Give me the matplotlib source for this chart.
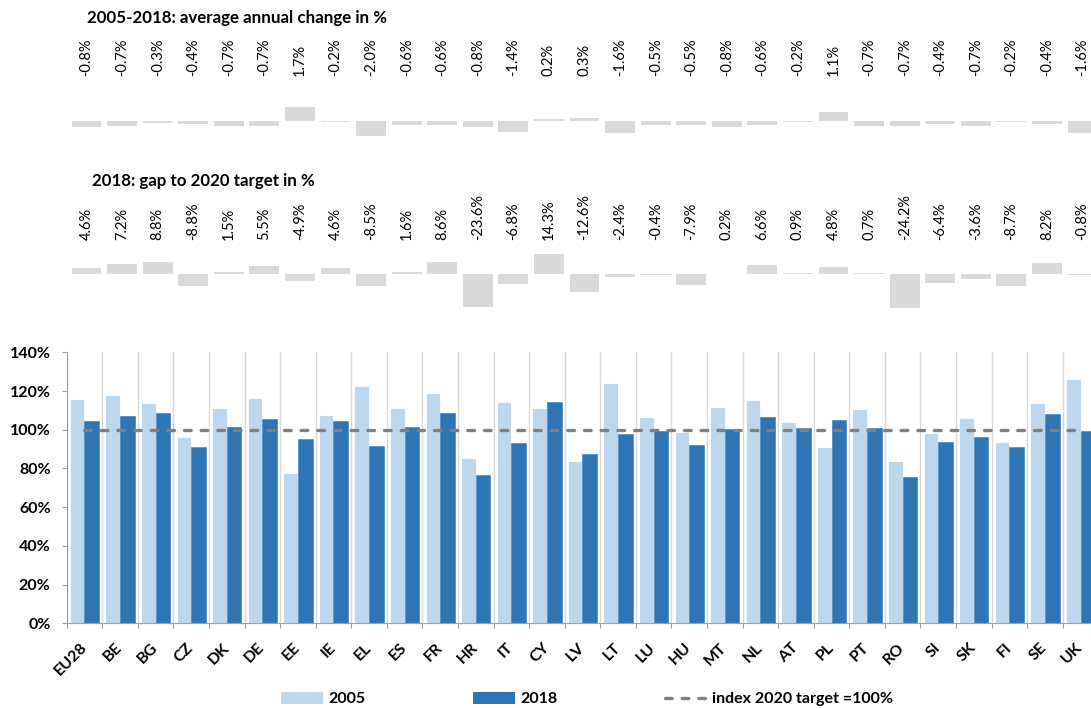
import numpy as np
import matplotlib
matplotlib.use('Agg')
import matplotlib.pyplot as plt
from matplotlib.ticker import FuncFormatter
from matplotlib.transforms import blended_transform_factory
from matplotlib.patches import Patch
from matplotlib.lines import Line2D


plt.rcParams['font.family'] = ['Lato', 'DejaVu Sans']

countries = ['EU28', 'BE', 'BG', 'CZ', 'DK', 'DE', 'EE', 'IE', 'EL', 'ES',
             'FR', 'HR', 'IT', 'CY', 'LV', 'LT', 'LU', 'HU', 'MT', 'NL',
             'AT', 'PL', 'PT', 'RO', 'SI', 'SK', 'FI', 'SE', 'UK']

# index relative to the 2020 target (%)
index_2005 = [116.1, 118.1, 114.0, 96.1, 111.1, 116.4, 77.8, 107.6, 122.8, 111.1,
              118.8, 85.6, 114.5, 111.1, 83.9, 124.2, 106.6, 99.0, 111.8, 115.5,
              103.8, 91.3, 110.6, 84.0, 98.5, 106.2, 93.7, 113.7, 126.1]
index_2018 = [104.6, 107.2, 108.8, 91.2, 101.5, 105.5, 95.1, 104.6, 91.5, 101.6,
              108.6, 76.4, 93.2, 114.3, 87.4, 97.6, 99.6, 92.1, 100.2, 106.6,
              100.9, 104.8, 100.7, 75.8, 93.6, 96.4, 91.3, 108.2, 99.2]
target_index = [100] * len(countries)

annual_change = [-0.8, -0.7, -0.3, -0.4, -0.7, -0.7, 1.7, -0.2, -2.0, -0.6,
                 -0.6, -0.8, -1.4, 0.2, 0.3, -1.6, -0.5, -0.5, -0.8, -0.6,
                 -0.2, 1.1, -0.7, -0.7, -0.4, -0.7, -0.2, -0.4, -1.6]
gap_to_target = [4.6, 7.2, 8.8, -8.8, 1.5, 5.5, -4.9, 4.6, -8.5, 1.6,
                 8.6, -23.6, -6.8, 14.3, -12.6, -2.4, -0.4, -7.9, 0.2, 6.6,
                 0.9, 4.8, 0.7, -24.2, -6.4, -3.6, -8.7, 8.2, -0.8]

LIGHT = '#bdd7ee'
DARK = '#2e75b6'
BAR_GREY = '#d9d9d9'
LINE_GREY = '#808080'
AXIS_GREY = '#a0a0a0'
DASHES = (0, (2.0, 3.0))

W, H = 1091, 708
fig = plt.figure(figsize=(W / 100, H / 100), dpi=100)


def px_axes(left, top, right, bottom):
    # axes placed by pixel edges, origin at the top left of the figure
    return fig.add_axes([left / W, 1 - bottom / H, (right - left) / W, (bottom - top) / H])


x = np.arange(len(countries))

# main chart
ax = px_axes(66.7, 352.3, 1098.3, 623.3)
w = 0.41
ax.bar(x - w / 2, index_2005, w, color=LIGHT, edgecolor='white', linewidth=0.6, zorder=2)
ax.bar(x + w / 2, index_2018, w, color=DARK, edgecolor='#4a86c0', linewidth=0.5, zorder=2)
ax.plot(x, target_index, color=LINE_GREY, lw=2.4, linestyle=DASHES,
        dash_capstyle='round', zorder=3)

ax.set_xlim(-0.5, len(countries) - 0.5)
ax.set_ylim(0, 140)
ax.set_yticks(range(0, 141, 20))
ax.yaxis.set_major_formatter(FuncFormatter(lambda v, p: f'{v:.0f}%'))
for lab in ax.get_yticklabels():
    lab.set_fontweight('bold')
    lab.set_fontsize(11.5)
ax.tick_params(axis='y', length=3.6, color=AXIS_GREY, pad=8)

ax.set_xticks(np.arange(-0.5, len(countries), 1))
ax.set_xticklabels([])
ax.tick_params(axis='x', which='major', length=3.6, color=AXIS_GREY)
ax.set_xticks(x, minor=True)
ax.set_xticklabels(countries, minor=True, rotation=45, ha='right', va='center',
                   rotation_mode='anchor', fontweight='bold', fontsize=11.5)
ax.tick_params(axis='x', which='minor', length=0, pad=16)

ax.grid(axis='x', which='major', color=BAR_GREY, lw=1)
ax.set_axisbelow(True)
for side in ['top', 'right']:
    ax.spines[side].set_visible(False)
for side in ['left', 'bottom']:
    ax.spines[side].set_color(AXIS_GREY)

# small panels above the main chart
def small_panel(top, bottom, ylim, values, label_y):
    pax = px_axes(68.7, top, 1100.3, bottom)
    pax.bar(x, values, 0.84, color=BAR_GREY)
    pax.set_xlim(-0.5, len(countries) - 0.5)
    pax.set_ylim(*ylim)
    pax.axis('off')
    trans = blended_transform_factory(pax.transData, fig.transFigure)
    for xi, v in zip(x, values):
        pax.text(xi, 1 - label_y / H, f'{v:.1f}%', transform=trans, rotation=90,
                 ha='center', va='bottom', fontsize=10.5)
    return pax


small_panel(100, 145, (-3.12, 2.65), annual_change, 76)
small_panel(245, 312, (-27.1, 20.7), gap_to_target, 240)

fig.text(86.7 / W, 1 - 18 / H, '2005-2018: average annual change in %',
         fontweight='bold', fontsize=12.2, va='center')
fig.text(92.3 / W, 1 - 181 / H, '2018: gap to 2020 target in %',
         fontweight='bold', fontsize=12.2, va='center')

handles = [Patch(facecolor=LIGHT), Patch(facecolor=DARK),
           Line2D([], [], color=LINE_GREY, lw=2.4, linestyle=DASHES, dash_capstyle='round')]
fig.legend(handles, ['2005', '2018', 'index 2020 target =100%'],
           loc='center left', bbox_to_anchor=(281 / W, 1 - 699 / H), ncol=3,
           frameon=False, handlelength=2.6, handleheight=0.8, handletextpad=0.35,
           columnspacing=6.75, borderpad=0, borderaxespad=0,
           prop={'weight': 'bold', 'size': 11.5})

fig.savefig('out.png', dpi=100)
